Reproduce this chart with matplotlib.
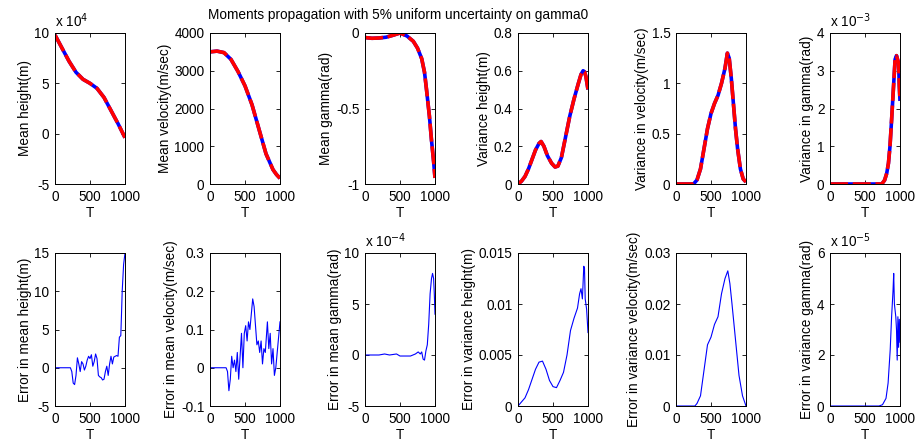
import matplotlib
matplotlib.use("Agg")
import matplotlib.pyplot as plt
import numpy as np

plt.rcParams['font.family'] = ['Liberation Sans', 'DejaVu Sans']

# ---- data (top row: moments, bottom row: errors) ----
t_mh = [0, 100, 200, 300, 400, 500, 600, 700, 800, 900, 950, 1000]
mean_height = [9.8, 8.5, 7.2, 6.1, 5.4, 5.0, 4.5, 3.6, 2.3, 1.0, 0.3, -0.4]  # x 1e4

t_mv = [0, 50, 100, 200, 300, 400, 500, 600, 700, 800, 900, 950, 1000]
mean_velocity = [3500, 3510, 3520, 3480, 3300, 2980, 2600, 2100, 1450, 800, 380, 250, 150]

t_mg = [0, 100, 200, 300, 400, 500, 600, 690, 750, 810, 850, 880, 920, 950, 980, 1000]
mean_gamma = [-0.03, -0.035, -0.033, -0.028, -0.015, 0.0, -0.02, -0.055, -0.1, -0.17, -0.26, -0.38, -0.55, -0.71, -0.85, -0.96]

t_vh = [0, 50, 100, 150, 200, 250, 300, 330, 370, 420, 480, 530, 570, 620, 680, 740, 800, 860, 900, 930, 950, 970, 1000]
var_height = [0.0, 0.015, 0.04, 0.08, 0.13, 0.18, 0.215, 0.225, 0.2, 0.15, 0.11, 0.09, 0.095, 0.14, 0.25, 0.36, 0.45, 0.53, 0.58, 0.60, 0.595, 0.57, 0.5]

t_vv = [0, 100, 200, 250, 300, 350, 400, 450, 500, 550, 600, 650, 700, 734, 760, 790, 820, 850, 880, 920, 960, 1000]
var_velocity = [0.0, 0.0, 0.0, 0.0, 0.04, 0.15, 0.35, 0.55, 0.7, 0.8, 0.88, 1.0, 1.15, 1.3, 1.25, 1.05, 0.8, 0.55, 0.35, 0.15, 0.05, 0.02]

t_vg = [0, 200, 400, 600, 740, 780, 810, 835, 857, 880, 905, 930, 950, 965, 980, 990, 1000]
var_gamma = [0.0, 0.0, 0.0, 0.0, 0.0, 0.1, 0.28, 0.55, 1.0, 1.7, 2.5, 3.3, 3.4, 3.3, 3.2, 2.6, 2.2]  # x 1e-3

t_emh = [0, 100, 200, 220, 240, 260, 280, 300, 320, 340, 360, 380, 400, 420, 440, 460, 480, 500, 520, 540, 560, 580,
         600, 620, 640, 660, 680, 700, 720, 740, 760, 780, 800, 820, 840, 860, 880, 900, 920, 940, 950, 960, 980, 1000]
err_mean_height = [0, 0, 0, 0, -0.5, -2.0, -2.2, -1.0, 1.3, 0.5, -0.5, 0.8, 0.5, -0.3, 0.2, 1.0, 1.5, 1.2, 1.7, 0.2, 0.8, 1.8,
                   1.2, -1.0, -1.2, -1.3, -1.6, -1.5, -0.5, 0.2, -1.0, 0.5, 1.5, 0.5, 1.4, 1.5, 1.6, 1.5, 4.0, 4.2, 7.0, 10.0, 13.5, 15.0]

t_emv = [0, 100, 230, 250, 270, 290, 310, 330, 350, 370, 390, 410, 430, 450, 470, 490, 510, 530, 550, 570, 590, 610, 630,
         650, 670, 690, 710, 730, 750, 770, 790, 820, 840, 860, 880, 900, 920, 940, 960, 980, 1000]
err_mean_velocity = [0, 0, 0, -0.01, -0.06, -0.03, 0.03, 0.0, 0.02, -0.01, 0.04, -0.03, 0.03, 0.09, 0.0, 0.09, 0.11, 0.07, 0.12,
                     0.10, 0.14, 0.18, 0.16, 0.11, 0.06, 0.07, 0.04, 0.07, 0.01, 0.05, 0.04, 0.12, 0.05, 0.09, 0.01, 0.05,
                     -0.02, 0.0, 0.04, 0.08, 0.12]

t_emg = [0, 100, 200, 280, 350, 450, 500, 560, 650, 720, 760, 790, 810, 830, 850, 870, 890, 910, 930, 950, 965, 980, 990, 1000]
err_mean_gamma = [0, 0, 0, 0.1, 0.0, 0.1, -0.1, -0.1, -0.1, 0.1, 0.3, 0.1, 0.3, -0.4, -0.5, 0.4, 1.0, 3.0, 6.0, 7.5, 8.0, 7.5, 6.0, 4.0]  # x 1e-4

t_evh = [0, 50, 100, 150, 200, 250, 300, 350, 400, 450, 500, 550, 600, 650, 700, 750, 800, 850, 880, 900, 920, 940, 950, 960, 980, 1000]
err_var_height = [0.0, 0.0004, 0.0008, 0.0016, 0.0026, 0.0036, 0.0043, 0.0044, 0.0036, 0.0025, 0.0019, 0.0018, 0.0025,
                  0.0033, 0.005, 0.0074, 0.0086, 0.0096, 0.011, 0.0115, 0.0105, 0.0137, 0.0135, 0.0105, 0.0095, 0.0072]

t_evv = [0, 100, 200, 270, 300, 350, 400, 450, 500, 550, 600, 650, 700, 740, 770, 800, 850, 900, 950, 1000]
err_var_velocity = [0.0, 0.0, 0.0, 0.0, 0.0005, 0.002, 0.007, 0.012, 0.0135, 0.016, 0.0175, 0.022, 0.025, 0.0265, 0.024,
                    0.02, 0.013, 0.006, 0.002, 0.0]

t_evg = [0, 200, 400, 600, 700, 750, 800, 830, 860, 880, 900, 910, 920, 940, 950, 960, 970, 980, 990, 1000]
err_var_gamma = [0, 0, 0, 0, 0, 0.05, 0.3, 0.9, 2.2, 3.5, 4.5, 5.2, 4.0, 3.5, 3.0, 1.8, 3.5, 2.3, 3.4, 2.5]  # x 1e-5

top_panels = [
    (t_mh, mean_height, 'Mean height(m)', (-5, 10), [-5, 0, 5, 10], 4),
    (t_mv, mean_velocity, 'Mean velocity(m/sec)', (0, 4000), [0, 1000, 2000, 3000, 4000], None),
    (t_mg, mean_gamma, 'Mean gamma(rad)', (-1, 0), [-1, -0.5, 0], None),
    (t_vh, var_height, 'Variance height(m)', (0, 0.8), [0, 0.2, 0.4, 0.6, 0.8], None),
    (t_vv, var_velocity, 'Variance in velocity(m/sec)', (0, 1.5), [0, 0.5, 1, 1.5], None),
    (t_vg, var_gamma, 'Variance in gamma(rad)', (0, 4), [0, 1, 2, 3, 4], -3),
]
bottom_panels = [
    (t_emh, err_mean_height, 'Error in mean height(m)', (-5, 15), [-5, 0, 5, 10, 15], None),
    (t_emv, err_mean_velocity, 'Error in mean velocity(m/sec)', (-0.1, 0.3), [-0.1, 0, 0.1, 0.2, 0.3], None),
    (t_emg, err_mean_gamma, 'Error in mean gamma(rad)', (-5, 10), [-5, 0, 5, 10], -4),
    (t_evh, err_var_height, 'Error in variance height(m)', (0, 0.015), [0, 0.005, 0.01, 0.015], None),
    (t_evv, err_var_velocity, 'Error in variance velocity(m/sec)', (0, 0.03), [0, 0.01, 0.02, 0.03], None),
    (t_evg, err_var_gamma, 'Error in variance gamma(rad)', (0, 6), [0, 2, 4, 6], -5),
]

W, H = 918, 447
fig = plt.figure(figsize=(W / 100, H / 100), dpi=100)
lefts = [55, 210, 365, 518, 676, 830]
axw = 70
rows = [(33, 184), (253, 406)]
fs = 9.8


def fmt(v):
    return '%g' % v


def style(ax, ylim, yticks, expo, label):
    ax.set_xlim(0, 1000)
    ax.set_ylim(*ylim)
    ax.set_xticks([0, 500, 1000])
    ax.set_xticklabels(['0', '500', '1000'])
    ax.set_yticks(yticks)
    ax.set_yticklabels([fmt(v) for v in yticks])
    ax.tick_params(direction='in', top=True, right=True, labelsize=fs, length=3, width=0.6, pad=4)
    for s in ax.spines.values():
        s.set_linewidth(0.7)
    ax.set_xlabel('T', fontsize=fs, labelpad=2)
    ax.set_ylabel(label, fontsize=fs, labelpad=2)
    if expo is not None:
        ax.text(0.0, 1.02, r'x 10$^{%d}$' % expo, transform=ax.transAxes, fontsize=fs,
                ha='left', va='bottom')


for i, (t, y, lab, ylim, yt, ex) in enumerate(top_panels):
    top, bot = rows[0]
    ax = fig.add_axes([lefts[i] / W, 1 - bot / H, axw / W, (bot - top) / H])
    ax.plot(t, y, color='blue', lw=2.6, solid_capstyle='butt')
    ax.plot(t, y, color='red', lw=2.6, dashes=(5, 1.3))
    style(ax, ylim, yt, ex, lab)

for i, (t, y, lab, ylim, yt, ex) in enumerate(bottom_panels):
    top, bot = rows[1]
    ax = fig.add_axes([lefts[i] / W, 1 - bot / H, axw / W, (bot - top) / H])
    ax.plot(t, y, color='blue', lw=0.8)
    style(ax, ylim, yt, ex, lab)

fig.text(398 / W, 1 - 15 / H, 'Moments propagation with 5% uniform uncertainty on gamma0',
         ha='center', va='center', fontsize=fs)

fig.savefig('out.png', dpi=100)
